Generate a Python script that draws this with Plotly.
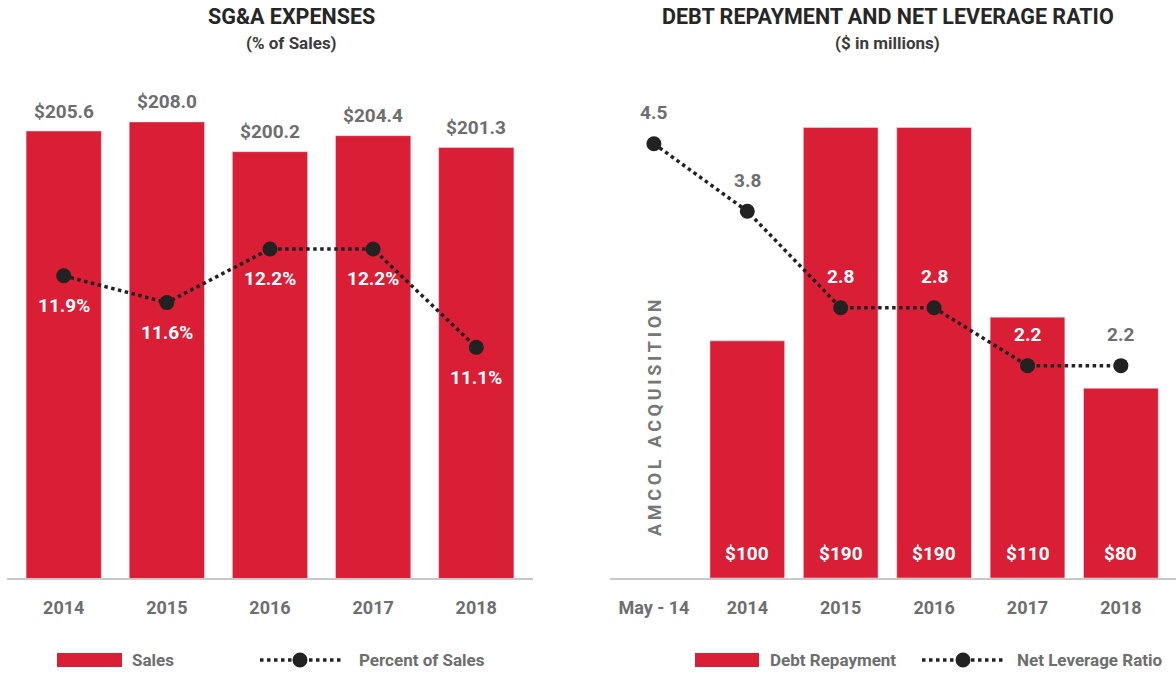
import plotly.graph_objects as go

# ---------------- data ----------------
sga_years = ["2014", "2015", "2016", "2017", "2018"]
sga_sales = [205.6, 208.0, 200.2, 204.4, 201.3]
sga_pct = [11.9, 11.6, 12.2, 12.2, 11.1]

debt_cats = ["May - 14", "2014", "2015", "2016", "2017", "2018"]
debt_repay = [None, 100, 190, 190, 110, 80]
net_leverage = [4.5, 3.8, 2.8, 2.8, 2.2, 2.2]

left_title = "SG&A EXPENSES"
left_sub = "(% of Sales)"
right_title = "DEBT REPAYMENT AND NET LEVERAGE RATIO"
right_sub = "($ in millions)"
left_names = ["Sales", "Percent of Sales"]
right_names = ["Debt Repayment", "Net Leverage Ratio"]
acq_note = "AMCOL ACQUISITION"

# ---------------- style ----------------
W, H = 1176, 674
RED = "#D91E36"
DARK = "#222222"
GRAY = "#6e6e6e"
FONT = "Roboto, Liberation Sans Narrow, Arial Narrow, sans-serif"

def px_x(p):
    return p / W

def px_y(p):
    return 1 - p / H

plot_dom = [px_y(578), px_y(80)]
y1_range = [88.3, 219.0]
y2_range = [8.52, 14.09]
y3_range = [0, 210]
y4_range = [0, 5.16]

fig = go.Figure()

fig.add_trace(go.Bar(
    x=sga_years, y=sga_sales, name=left_names[0], marker_color=RED,
    width=0.73, xaxis="x", yaxis="y", showlegend=False))
fig.add_trace(go.Scatter(
    x=sga_years, y=sga_pct, name=left_names[1], mode="lines+markers",
    line=dict(color=DARK, width=3.5, dash="dot"),
    marker=dict(color=DARK, size=15), xaxis="x", yaxis="y2", showlegend=False))

fig.add_trace(go.Bar(
    x=debt_cats, y=debt_repay, name=right_names[0], marker_color=RED,
    width=0.8, xaxis="x2", yaxis="y3", showlegend=False))
fig.add_trace(go.Scatter(
    x=debt_cats, y=net_leverage, name=right_names[1], mode="lines+markers",
    line=dict(color=DARK, width=3.5, dash="dot"),
    marker=dict(color=DARK, size=15), xaxis="x2", yaxis="y4", showlegend=False))

LBL = 19
ann = []
# sales value labels above bars
for i, v in enumerate(sga_sales):
    ann.append(dict(x=i, y=v, xref="x", yref="y", text=f"${v:.1f}",
                    showarrow=False, xanchor="center", yanchor="middle", yshift=20,
                    font=dict(family=FONT, size=LBL, color=GRAY, weight="bold")))
# percent labels below points
for i, v in enumerate(sga_pct):
    ann.append(dict(x=i, y=v, xref="x", yref="y2", text=f"{v:.1f}%",
                    showarrow=False, xanchor="center", yanchor="middle", yshift=-30,
                    font=dict(family=FONT, size=LBL, color="white", weight="bold")))
# debt labels inside bars at bottom
for i, v in enumerate(debt_repay):
    if v is None:
        continue
    ann.append(dict(x=i, y=0, xref="x2", yref="y3", text=f"${v:.0f}",
                    showarrow=False, xanchor="center", yanchor="middle", yshift=25,
                    font=dict(family=FONT, size=LBL, color="white", weight="bold")))
# leverage labels above points (white when sitting on a bar)
px_per_y4 = 498 / (y4_range[1] - y4_range[0])
px_per_y3 = 498 / (y3_range[1] - y3_range[0])
for i, (v, b) in enumerate(zip(net_leverage, debt_repay)):
    label_px = v * px_per_y4 + 31
    on_bar = b is not None and label_px + 10 < b * px_per_y3
    ann.append(dict(x=i, y=v, xref="x2", yref="y4", text=f"{v:.1f}",
                    showarrow=False, xanchor="center", yanchor="middle", yshift=31,
                    font=dict(family=FONT, size=LBL,
                              color="white" if on_bar else GRAY, weight="bold")))

# acquisition note
ann.append(dict(x=0, y=px_y(418), xref="x2", yref="paper",
                text="\u2009".join(list(acq_note.replace(" ", "\u00a0"))),
                textangle=-90, showarrow=False, xanchor="center", yanchor="middle",
                font=dict(family=FONT, size=18, color="#777777", weight="bold")))

# titles
for cx, t, s in [(291, left_title, left_sub), (888, right_title, right_sub)]:
    ann.append(dict(x=px_x(cx), y=px_y(16), xref="paper", yref="paper", text=t,
                    showarrow=False, xanchor="center", yanchor="middle",
                    font=dict(family=FONT, size=21.5, color="#262626", weight="bold")))
    ann.append(dict(x=px_x(cx), y=px_y(43), xref="paper", yref="paper", text=s,
                    showarrow=False, xanchor="center", yanchor="middle",
                    font=dict(family=FONT, size=17, color="#3c3c3c", weight="bold")))

# manual legends
shapes = []
legend_y = 660
for (r0, r1, t1, l0, l1, mx, t2, names) in [
    (57, 122, 130, 260, 343, 300, 357, left_names),
    (695, 759, 768, 922, 1003, 963, 1015, right_names),
]:
    shapes.append(dict(type="rect", xref="paper", yref="paper",
                       x0=px_x(r0), x1=px_x(r1), y0=px_y(legend_y + 7), y1=px_y(legend_y - 7),
                       fillcolor=RED, line=dict(width=0)))
    shapes.append(dict(type="line", xref="paper", yref="paper",
                       x0=px_x(l0), x1=px_x(l1), y0=px_y(legend_y), y1=px_y(legend_y),
                       line=dict(color=DARK, width=3.5, dash="dot")))
    shapes.append(dict(type="circle", xref="paper", yref="paper",
                       x0=px_x(mx - 7.5), x1=px_x(mx + 7.5),
                       y0=px_y(legend_y + 7.5), y1=px_y(legend_y - 7.5),
                       fillcolor=DARK, line=dict(width=0)))
    ann.append(dict(x=px_x(t1), y=px_y(legend_y), xref="paper", yref="paper",
                    text=names[0], showarrow=False, xanchor="left", yanchor="middle",
                    font=dict(family=FONT, size=17, color=GRAY, weight="bold")))
    ann.append(dict(x=px_x(t2), y=px_y(legend_y), xref="paper", yref="paper",
                    text=names[1], showarrow=False, xanchor="left", yanchor="middle",
                    font=dict(family=FONT, size=17, color=GRAY, weight="bold")))

xaxis_common = dict(type="category", showgrid=False, zeroline=False,
                    showline=True, linecolor="#c8c8c8", linewidth=2,
                    ticks="outside", ticklen=12, tickcolor="rgba(0,0,0,0)",
                    tickfont=dict(family=FONT, size=18, color=GRAY, weight="bold"),
                    fixedrange=True)
yaxis_common = dict(visible=False, showgrid=False, zeroline=False, fixedrange=True)

fig.update_layout(
    width=W, height=H,
    margin=dict(l=0, r=0, t=0, b=0),
    paper_bgcolor="white", plot_bgcolor="white",
    showlegend=False,
    xaxis=dict(domain=[px_x(7), px_x(533)], range=[-0.55, 4.55], anchor="y", **xaxis_common),
    yaxis=dict(domain=plot_dom, range=y1_range, anchor="x", **yaxis_common),
    yaxis2=dict(range=y2_range, overlaying="y", anchor="x", **yaxis_common),
    xaxis2=dict(domain=[px_x(610), 1.0], range=[-0.47, 5.59], anchor="y3", **xaxis_common),
    yaxis3=dict(domain=plot_dom, range=y3_range, anchor="x2", **yaxis_common),
    yaxis4=dict(range=y4_range, overlaying="y3", anchor="x2", **yaxis_common),
    annotations=ann,
    shapes=shapes,
)

fig.write_html(
    "out.html",
    config={"displayModeBar": False},
    post_script="document.body.style.margin='0';document.body.style.overflow='hidden';",
)
